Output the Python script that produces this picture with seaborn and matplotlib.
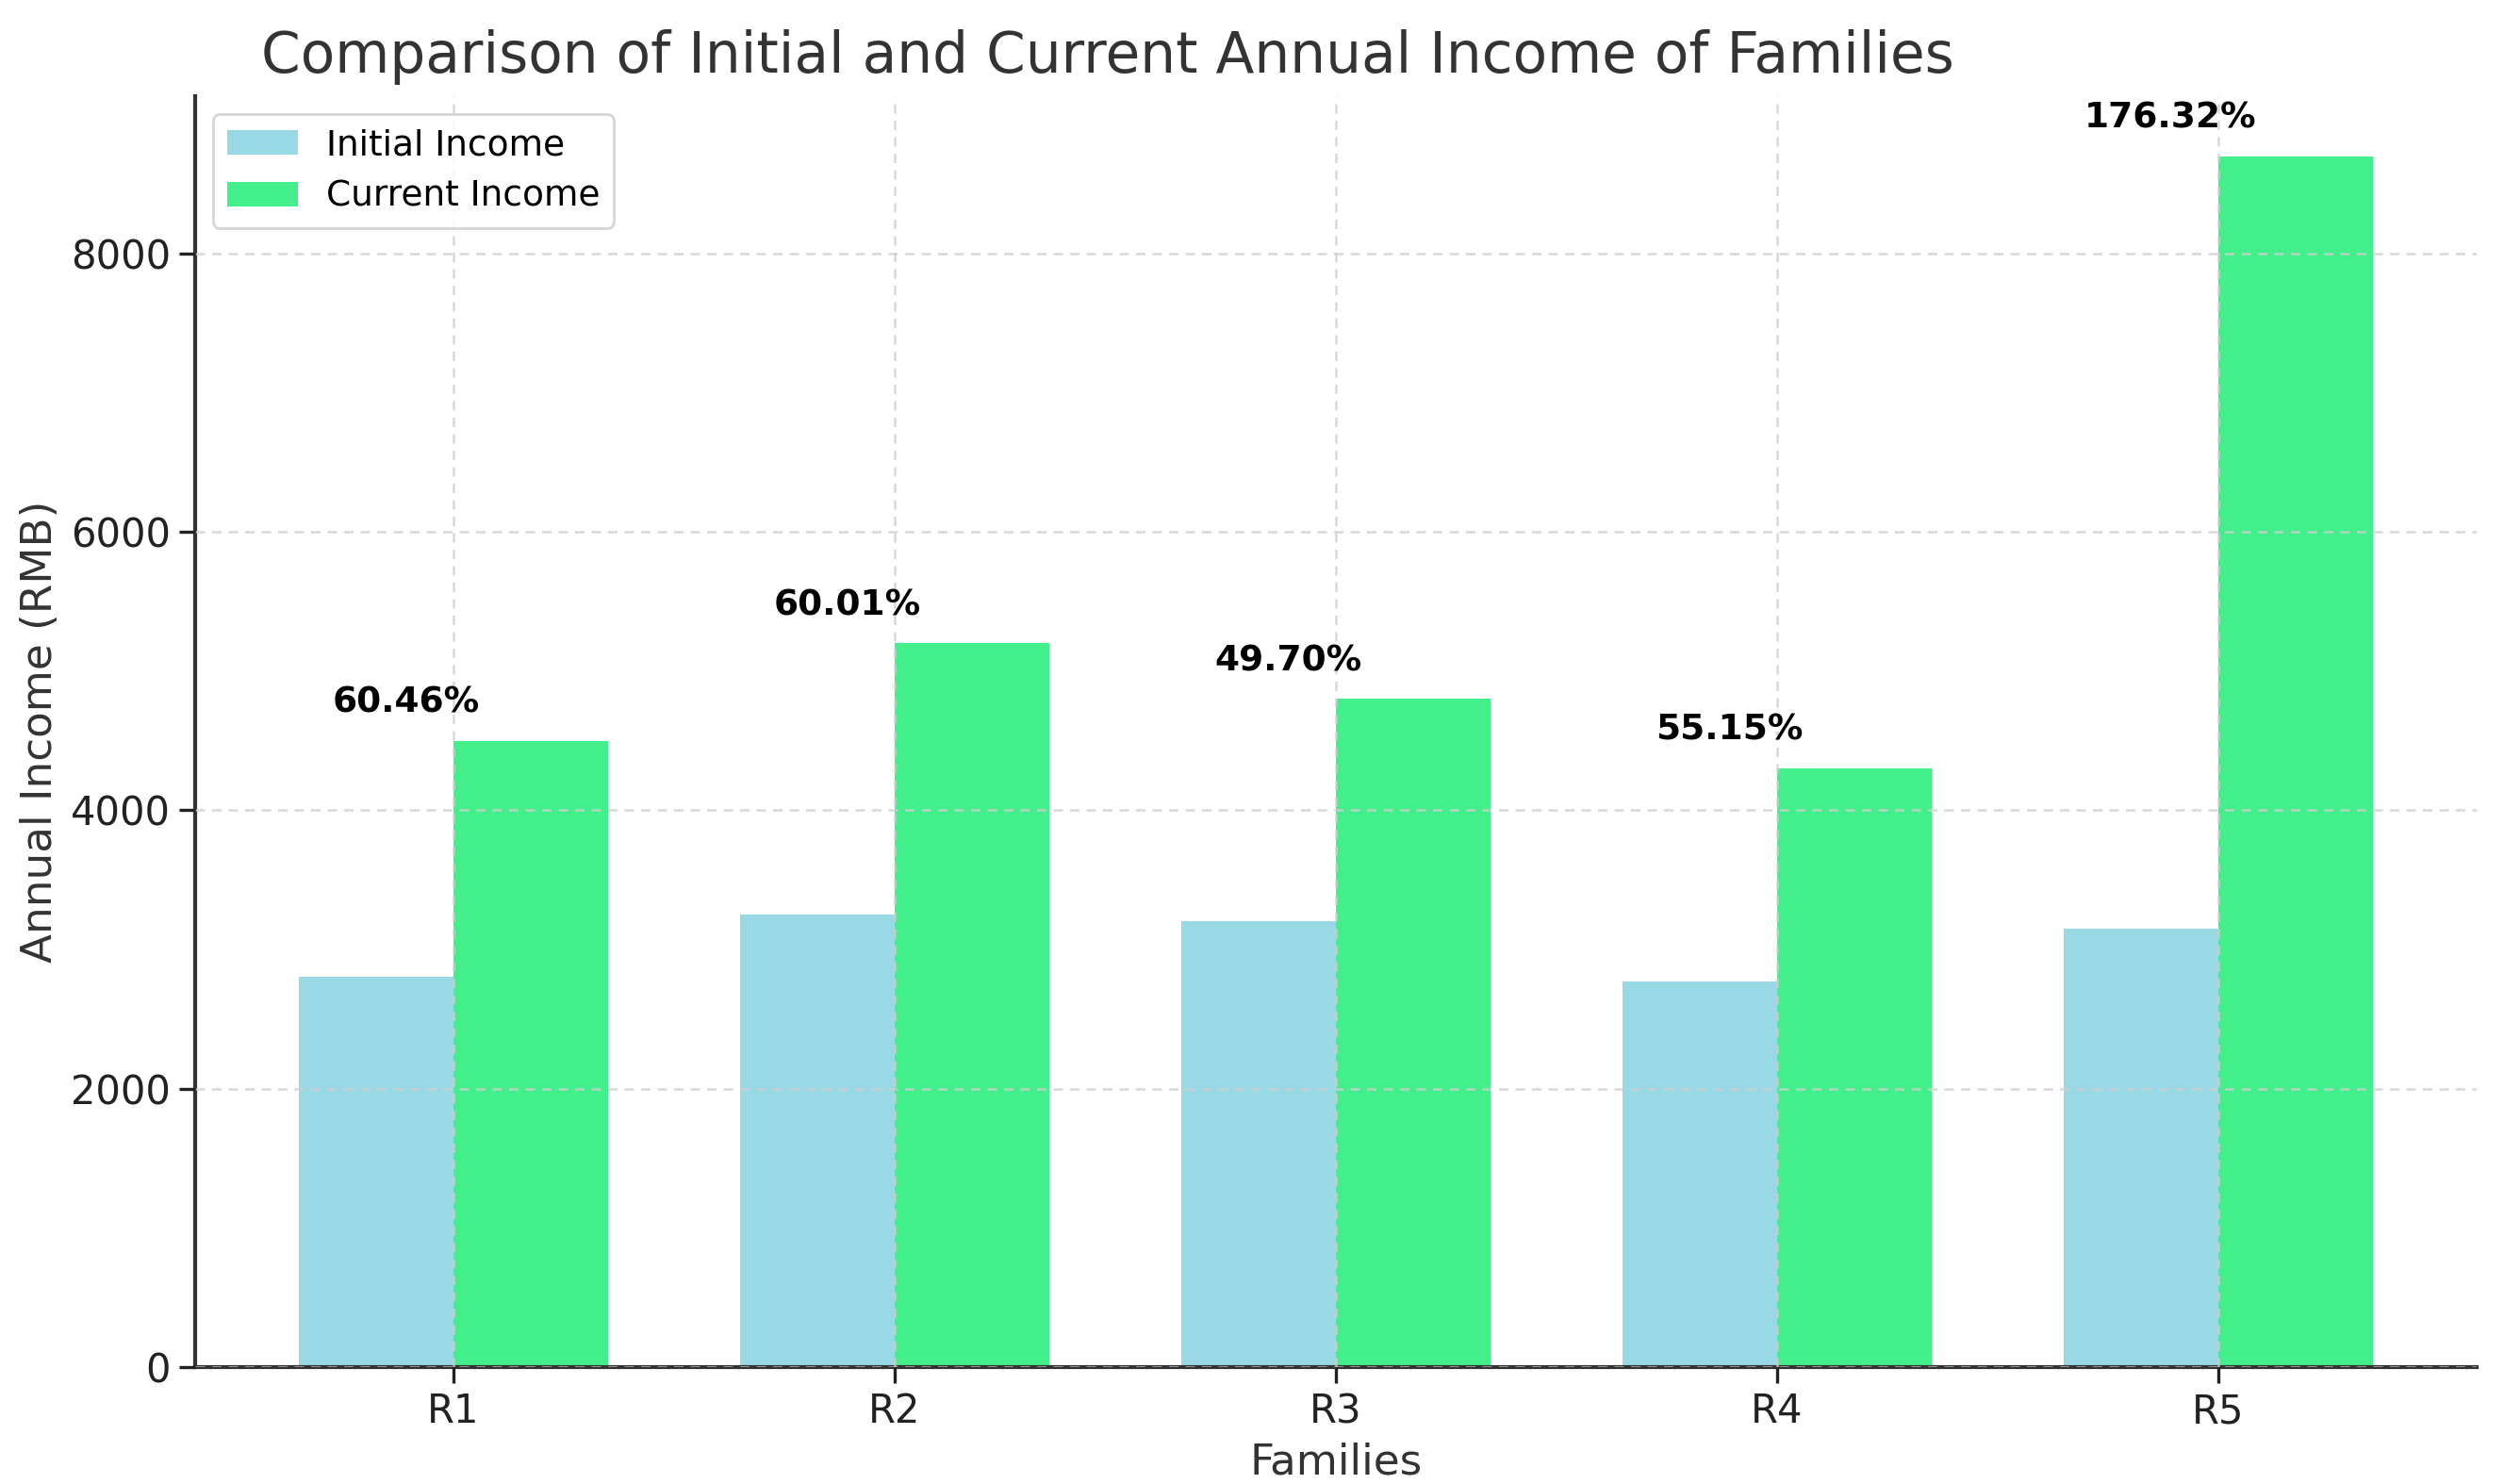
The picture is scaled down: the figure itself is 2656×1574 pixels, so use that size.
import pandas as pd
import numpy as np
import matplotlib
matplotlib.use("Agg")
import matplotlib.pyplot as plt
import seaborn as sns

# -----------------------------
# Data
# -----------------------------
families = ["R1", "R2", "R3", "R4", "R5"]
initial_income = [2805, 3250, 3206, 2772, 3149]
current_income = [4500, 5200, 4800, 4300, 8700]
growth_labels = ["60.46%", "60.01%", "49.70%", "55.15%", "176.32%"]

df = pd.DataFrame({
    "Families": families * 2,
    "Income": initial_income + current_income,
    "Type": ["Initial Income"] * 5 + ["Current Income"] * 5,
})

plt.rcParams["font.family"] = ["DejaVu Sans"]

fig, ax = plt.subplots(figsize=(13.28, 7.87), dpi=200)
fig.subplots_adjust(left=0.078, right=0.989, top=0.935, bottom=0.079)

sns.barplot(data=df, x="Families", y="Income", hue="Type",
            palette=["#99D9E6", "#43EF8A"], width=0.7, ax=ax,
            saturation=1, errorbar=None)

# seaborn turns the category grid off and tightens xlim; restore
ax.set_xlim(-0.585, 4.585)
ax.set_ylim(0, 9130)
ax.set_axisbelow(False)
ax.grid(True, linestyle=(0, (4, 3)), alpha=0.8, color="#cfcfcf", linewidth=0.9)

# growth labels above the current bars
for i, lab in enumerate(growth_labels):
    ax.text(i - 0.108, current_income[i] + 150, lab, ha="center", va="bottom",
            fontsize=13.5, fontweight="bold", color="black")

title = ax.set_title("Comparison of Initial and Current Annual Income of Families",
                     fontsize=21.5, color="#333333", pad=9)
title.set_x(0.4)
ax.set_xlabel("Families", fontsize=16.3, color="#333333")
ax.set_ylabel("Annual Income (RMB)", fontsize=16.3, color="#333333")
ax.tick_params(axis="both", labelsize=15, colors="#222222", length=6, width=1.2)
ax.set_yticks([0, 2000, 4000, 6000, 8000])

for side in ["top", "right"]:
    ax.spines[side].set_visible(False)
for side in ["left", "bottom"]:
    ax.spines[side].set_linewidth(1.5)
    ax.spines[side].set_color("#333333")

leg = ax.legend(loc="upper left", fontsize=13.5, title=None, framealpha=0.8)
leg.get_frame().set_edgecolor("#cccccc")

fig.savefig("out.png", dpi=200)
